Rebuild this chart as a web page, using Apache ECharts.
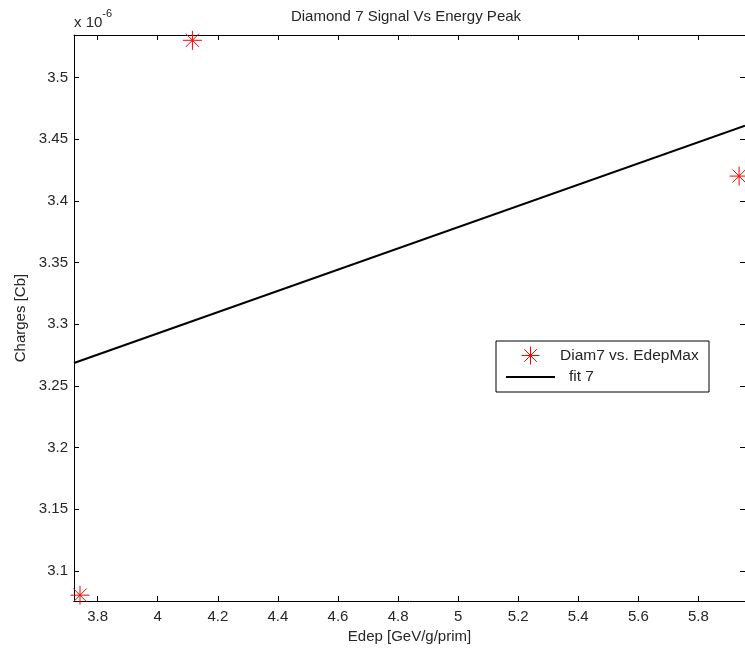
<!DOCTYPE html>
<html>
<head>
<meta charset="utf-8">
<script src="https://cdn.jsdelivr.net/npm/echarts@6/dist/echarts.min.js"></script>
<style>
  html, body { margin: 0; padding: 0; background: #fff; }
  #chart { width: 745px; height: 649px; }
</style>
</head>
<body>
<div id="chart"></div>
<script>
// Measured points (Edep peak vs. collected charge, charge in units of 1e-6 Cb)
const edepPoints = [3.7412, 4.1154, 5.9353];
const chargePoints = [3.0803, 3.5302, 3.4201];

// Linear fit, evaluated at the two ends of the x range
const edepFit = [3.7212, 5.955];
const chargeFit = [3.2686, 3.4609];

// Axis limits and tick positions
const xLimits = [3.7212, 5.955];
const yLimits = [3.0755, 3.5345];
const xTicks = [3.8, 4, 4.2, 4.4, 4.6, 4.8, 5, 5.2, 5.4, 5.6, 5.8];
const yTicks = [3.1, 3.15, 3.2, 3.25, 3.3, 3.35, 3.4, 3.45, 3.5];

const FONT = '"Liberation Sans", Arial, Helvetica, sans-serif';
const TEXT = '#262626';
const STAR = 'path://M0,-10L0,10M-10,0L10,0M-7,-7L7,7M-7,7L7,-7';
const LINE_ICON = 'path://M0,0L49,0L49,2L0,2Z';

const chart = echarts.init(document.getElementById('chart'), null, { renderer: 'canvas' });

function boxAxis(isX, primary) {
  const ticks = isX ? xTicks : yTicks;
  const lim = isX ? xLimits : yLimits;
  const ax = {
    type: 'value',
    min: lim[0],
    max: lim[1],
    position: isX ? (primary ? 'bottom' : 'top') : (primary ? 'left' : 'right'),
    splitLine: { show: false },
    axisLine: { show: true, onZero: false, lineStyle: { color: '#000', width: 1 } },
    axisTick: { show: true, inside: true, length: 5, customValues: ticks, lineStyle: { color: '#000', width: 1 } },
    axisLabel: {
      show: primary,
      customValues: ticks,
      fontFamily: FONT,
      fontSize: 15,
      color: TEXT,
      margin: isX ? 8 : 6,
      formatter: v => String(+v.toFixed(4))
    }
  };
  if (primary) {
    ax.nameLocation = 'middle';
    ax.nameTextStyle = { fontFamily: FONT, fontSize: 15, color: TEXT };
    if (isX) { ax.name = 'Edep [GeV/g/prim]'; ax.nameGap = 18; }
    else { ax.name = 'Charges [Cb]'; ax.nameGap = 46; }
  }
  return ax;
}

const option = {
  backgroundColor: '#fff',
  animation: false,
  title: {
    text: 'Diamond 7 Signal Vs Energy Peak',
    left: 406,
    textAlign: 'center',
    top: 9,
    padding: 0,
    textStyle: { fontFamily: FONT, fontSize: 15, fontWeight: 'normal', color: TEXT }
  },
  grid: { left: 74, top: 35, width: 672, height: 567, containLabel: false },
  xAxis: [boxAxis(true, true), boxAxis(true, false)],
  yAxis: [boxAxis(false, true), boxAxis(false, false)],
  legend: {
    orient: 'vertical',
    left: 506,
    top: 346,
    padding: 0,
    itemWidth: 49,
    itemHeight: 18,
    itemGap: 4,
    textStyle: {
      fontFamily: FONT, fontSize: 15.5, color: TEXT,
      rich: { f: { fontFamily: FONT, fontSize: 15.5, color: TEXT, padding: [0, 0, 0, 9] } }
    },
    formatter: name => name === 'fit 7' ? '{f|' + name + '}' : name,
    data: [
      { name: 'Diam7 vs. EdepMax', itemStyle: { color: '#ff0000', borderColor: '#ff0000', borderWidth: 1 } },
      { name: 'fit 7', icon: LINE_ICON, itemStyle: { color: '#000', borderWidth: 0 } }
    ]
  },
  graphic: [
    {
      type: 'rect',
      shape: { x: 496, y: 341, width: 213, height: 51 },
      style: { fill: 'none', stroke: '#000', lineWidth: 1 },
      z: 5
    },
    {
      type: 'text',
      left: 74,
      top: 8,
      style: {
        text: '{a|x 10}{b|-6}',
        rich: {
          a: { fontFamily: FONT, fontSize: 15, fill: TEXT, verticalAlign: 'bottom', lineHeight: 22 },
          b: { fontFamily: FONT, fontSize: 11, fill: TEXT, verticalAlign: 'top', lineHeight: 22 }
        }
      }
    }
  ],
  series: [
    {
      name: 'Diam7 vs. EdepMax',
      type: 'scatter',
      clip: false,
      symbol: STAR,
      symbolSize: 19,
      itemStyle: { color: '#ff0000', borderColor: '#ff0000', borderWidth: 1, opacity: 1 },
      data: edepPoints.map((x, i) => [x, chargePoints[i]]),
      z: 4
    },
    {
      name: 'fit 7',
      type: 'line',
      symbol: 'none',
      clip: true,
      lineStyle: { color: '#000', width: 2 },
      itemStyle: { color: '#000' },
      data: edepFit.map((x, i) => [x, chargeFit[i]]),
      z: 3
    }
  ]
};

chart.setOption(option);
</script>
</body>
</html>
